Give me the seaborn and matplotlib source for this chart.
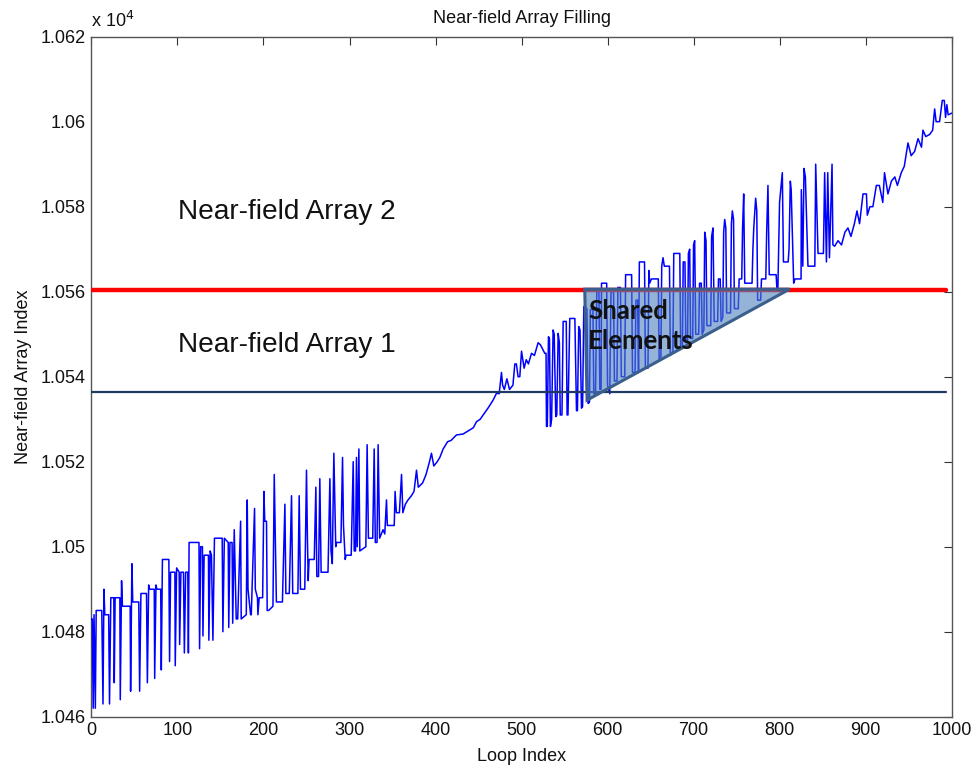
import matplotlib
matplotlib.use("Agg")
import matplotlib.pyplot as plt
import seaborn as sns
import pandas as pd
from matplotlib.patches import Polygon

# ---------------- data ----------------
loop_seg_a = [0, 1, 2, 3, 4.5, 5.5, 12, 13.4, 14.5, 15.5, 20, 21, 22.5, 26, 26.5, 27.5, 33, 33.5, 35, 36,
              45, 45.5, 47, 48, 55, 56, 57.5, 64, 65, 66.5, 67.5, 73, 73.5, 75, 76, 80.5, 81.2, 82.5, 90,
              90.8, 92, 97, 97.4, 99, 102, 102.5, 104, 107, 108, 109.5, 112, 112.7, 113.5, 125, 125.7, 127,
              129, 129.6, 131, 136, 136.5, 138, 139.5, 141.2, 143, 152, 152.8, 154.5, 159, 159.6, 161, 163.5,
              164.2, 166, 168.3, 170, 173.4, 174.1, 180, 181.1, 182, 185, 185.8, 189.6, 190.5, 193, 193.5,
              195, 199]
val_seg_a = [10483, 10483, 10462, 10484, 10462, 10485, 10485, 10463, 10490, 10484, 10484, 10463, 10488,
             10488, 10468, 10488, 10488, 10464, 10492, 10486, 10486, 10466, 10496, 10487, 10487, 10466,
             10489, 10489, 10468, 10491, 10490, 10490, 10469, 10491, 10490, 10490, 10471, 10497, 10497,
             10473, 10494, 10494, 10472, 10495, 10494, 10477, 10494, 10494, 10475, 10494, 10494, 10475,
             10501, 10501, 10476, 10500, 10500, 10479, 10498, 10498, 10478, 10499, 10498, 10478, 10502,
             10502, 10480, 10502, 10501, 10481, 10501, 10501, 10482, 10504, 10483, 10483, 10506, 10483,
             10484, 10511, 10490, 10484, 10484, 10509, 10490, 10488, 10484, 10488, 10488]

loop_seg_b = [200.5, 201.5, 203.5, 204.3, 206, 211, 212.5, 214, 215, 222, 224.9, 226, 230, 232.6, 234,
              240, 241.5, 243, 248, 250, 251, 252, 253, 259, 260.9, 262, 264, 265.5, 267, 275, 277.2,
              278.5, 280, 281.8, 284, 285, 290, 291.9, 293, 295, 296, 302, 304.3, 305.5, 307, 308.1, 309,
              310.9, 312, 319, 320.5, 322, 327, 328.7, 330, 332, 333.3, 335, 339, 341, 343, 344, 348, 352,
              353, 354.5, 358, 360.5, 362, 365, 368, 372, 375, 377.9, 380, 385, 389, 393, 395.3, 398, 402,
              405]
val_seg_b = [10513, 10506, 10506, 10485, 10485, 10486, 10517, 10499, 10487, 10487, 10510, 10489, 10489,
             10512, 10489, 10489, 10512, 10490, 10490, 10518, 10503, 10492, 10497, 10497, 10514, 10493,
             10493, 10516, 10494, 10494, 10516, 10499, 10496, 10522, 10500, 10501, 10501, 10521, 10505,
             10497, 10498, 10498, 10520, 10499, 10499, 10521, 10500, 10523, 10499, 10500, 10524, 10502,
             10502, 10523, 10501, 10501, 10524, 10502, 10504, 10503, 10511, 10505, 10505, 10505, 10513,
             10508, 10508, 10517, 10508, 10510, 10511, 10512, 10513, 10518, 10514, 10515, 10517, 10520,
             10522, 10519, 10520, 10521]

loop_seg_c = [408.9, 414, 418, 424.4, 432, 439.9, 444, 447.6, 452, 455.4, 461, 467, 470.9, 474, 476.7,
              478, 480, 483, 486, 490, 492.2, 494, 496, 498, 500, 503, 505.5, 508, 511.6, 515, 519.3, 522,
              527, 528.5, 529, 530, 531.3, 532.5, 533.6, 535, 536.7, 538, 539.8, 541, 542.6, 544, 545, 547,
              548.4, 552, 553, 554, 556.1, 562, 563.9, 565, 566.5, 568, 569.7, 571, 572.4, 576]
val_seg_c = [10523, 10524.7, 10525, 10526.3, 10526.5, 10527.5, 10528, 10529.4, 10530, 10531, 10532.6,
             10534.5, 10536.1, 10536, 10541, 10538, 10537, 10539.5, 10537, 10538, 10543, 10543, 10540,
             10540, 10546, 10542, 10544, 10543, 10545.5, 10545, 10548, 10547.5, 10545.5, 10545.5, 10528.3,
             10528.3, 10549.4, 10549, 10528.3, 10530, 10551, 10550, 10530.6, 10531, 10550.2, 10548, 10531,
             10531, 10553, 10553, 10531, 10531, 10553.7, 10553.7, 10532, 10532, 10551.8, 10551, 10532.6,
             10533, 10556.5, 10556]

loop_seg_d = [577.4, 579, 580, 583, 584, 586, 587.5, 590, 591, 592.5, 593, 599, 600, 602.6, 604, 607, 608,
              611, 612, 615, 616, 620, 621, 628, 629, 632, 633, 635, 636, 637, 643, 644, 647, 648, 649, 651,
              659, 660, 662, 663, 664.5, 666, 672, 673, 676, 677, 684, 685, 687, 688, 690, 691, 693, 694,
              695.5, 696.5, 699, 700, 701.3, 702.5, 706, 707, 709, 710, 712, 713, 714.5, 715.5, 720, 721,
              722.6, 724, 728, 729, 731, 732, 734, 735, 736.2, 737.5, 738.5, 743, 744, 745.1, 746.5, 747.5,
              752, 753, 756, 757, 758.3, 759.5, 768, 769, 770, 772.2, 773.5, 774.5, 778, 779, 784, 785,
              786.5, 788, 796, 797, 798, 800, 803.2, 804.5, 810, 811, 812.5, 813.5, 816.4, 818, 825, 825.3,
              827, 828.4, 830, 833, 841, 842, 844.7, 851, 852.4, 854.5, 856, 858, 861, 862]
val_seg_d = [10533.7, 10534, 10555.7, 10556, 10536, 10536, 10560, 10560, 10537, 10537, 10562, 10562,
             10538, 10536, 10560, 10560, 10539, 10539, 10561, 10561, 10540, 10540, 10564, 10564, 10541,
             10541, 10558, 10558, 10541, 10567, 10567, 10542, 10542, 10565, 10562, 10563, 10563, 10544,
             10544, 10566, 10568, 10566, 10566, 10545, 10546, 10569, 10569, 10547, 10547, 10567, 10567,
             10548, 10548, 10569, 10570, 10549, 10549, 10571, 10572, 10550, 10550, 10562, 10562, 10550,
             10551, 10574, 10572, 10552, 10552, 10573, 10575, 10553, 10553, 10563, 10563, 10553, 10554,
             10574, 10577, 10575, 10555, 10555, 10576, 10579, 10577, 10556, 10556, 10563, 10563, 10575,
             10583, 10562, 10562, 10570, 10575, 10582, 10579, 10558, 10558, 10563, 10563, 10574, 10585,
             10564, 10564, 10560.5, 10560.5, 10581, 10588, 10567, 10567, 10570, 10586, 10584, 10562,
             10563, 10563, 10584, 10566, 10589, 10587, 10566, 10566, 10590, 10569, 10569, 10588, 10567,
             10588, 10568, 10590, 10571]

loop_seg_e = [864, 868, 872, 876, 879.5, 883, 887, 890, 893, 897, 901, 902, 905, 908.5, 912.5, 916, 920,
              922, 926, 930, 934, 937, 941.5, 945, 949.3, 953, 957, 961, 965, 966.7, 970, 974.5, 978,
              980.3, 982, 986, 989.2, 991.5, 993, 994.5, 996, 1000]
val_seg_e = [10570.7, 10572, 10571, 10574, 10575, 10573, 10576, 10579, 10576, 10583, 10583, 10578, 10580,
             10580, 10585, 10585, 10581, 10588, 10583, 10586, 10587, 10585, 10588, 10589.5, 10595, 10592,
             10593, 10596, 10594, 10598, 10596.5, 10597, 10598, 10603, 10600, 10600, 10605, 10605, 10601,
             10604, 10601.6, 10602]

array2_boundary = 10560.5      # red line
array1_boundary = 10536.5      # dark blue line
boundary_x = [0, 993]

shared_x = [573.5, 811.7, 576.2]
shared_y = [10560.6, 10560.6, 10534.5]

y_ticks = [10460, 10480, 10500, 10520, 10540, 10560, 10580, 10600, 10620]
y_tick_labels = ["1.046", "1.048", "1.05", "1.052", "1.054", "1.056", "1.058", "1.06", "1.062"]
x_ticks = [0, 100, 200, 300, 400, 500, 600, 700, 800, 900, 1000]

# ---------------- figure ----------------
sns.set_theme(style="white")
plt.rcParams["font.family"] = ["Liberation Sans", "DejaVu Sans"]

fig = plt.figure(figsize=(9.73, 7.72), dpi=100)
ax = fig.add_axes([0.094, 0.0716, 0.884, 0.8809])

loop_all = loop_seg_a + loop_seg_b + loop_seg_c + loop_seg_d + loop_seg_e
val_all = val_seg_a + val_seg_b + val_seg_c + val_seg_d + val_seg_e
df = pd.DataFrame({"Loop Index": loop_all, "Near-field Array Index": val_all})

sns.lineplot(data=df, x="Loop Index", y="Near-field Array Index", sort=False, estimator=None,
             color="#0000ff", linewidth=1.1, ax=ax, zorder=3)

sns.lineplot(x=boundary_x, y=[array2_boundary] * 2, color="#ff0000", linewidth=3.2, ax=ax, zorder=4)
sns.lineplot(x=boundary_x, y=[array1_boundary] * 2, color="#1f3864", linewidth=1.6, ax=ax, zorder=4)

tri = Polygon(list(zip(shared_x, shared_y)), closed=True, facecolor="#4f81bd", alpha=0.6,
              edgecolor="none", zorder=5)
ax.add_patch(tri)
tri_edge = Polygon(list(zip(shared_x, shared_y)), closed=True, fill=False,
                   edgecolor="#3a5f8c", linewidth=2.2, zorder=6)
ax.add_patch(tri_edge)

ax.text(577.5, 10558.3, "Shared\nElements", fontsize=18.5, fontweight="bold", family=["Lato", "DejaVu Sans"],
        color="#111111", va="top", ha="left", linespacing=1.3, zorder=7)
ax.text(100.5, 10578.8, "Near-field Array 2", fontsize=20.2, va="center", ha="left", color="#111111")
ax.text(100.5, 10547.4, "Near-field Array 1", fontsize=20.2, va="center", ha="left", color="#111111")

ax.set_xlim(0, 1000)
ax.set_ylim(10460, 10620)
ax.set_xticks(x_ticks)
ax.set_xticklabels([str(t) for t in x_ticks])
ax.set_yticks(y_ticks)
ax.set_yticklabels(y_tick_labels)
ax.tick_params(axis="both", which="both", direction="in", length=6, width=0.8, color="#333333",
               labelsize=13, top=True, right=True, labelcolor="#111111", pad=4)
for s in ax.spines.values():
    s.set_visible(True)
    s.set_color("#555555")
    s.set_linewidth(1.0)

ax.set_xlabel("Loop Index", fontsize=13, color="#111111", labelpad=6)
ax.set_ylabel("Near-field Array Index", fontsize=13, color="#111111", labelpad=6)
ax.set_title("Near-field Array Filling", fontsize=13, color="#111111", pad=10)
ax.text(0.0, 1.008, r"x 10$^4$", transform=ax.transAxes, fontsize=13, ha="left", va="bottom",
        color="#111111")
ax.grid(False)

fig.savefig("out.png", dpi=100, facecolor="white")
